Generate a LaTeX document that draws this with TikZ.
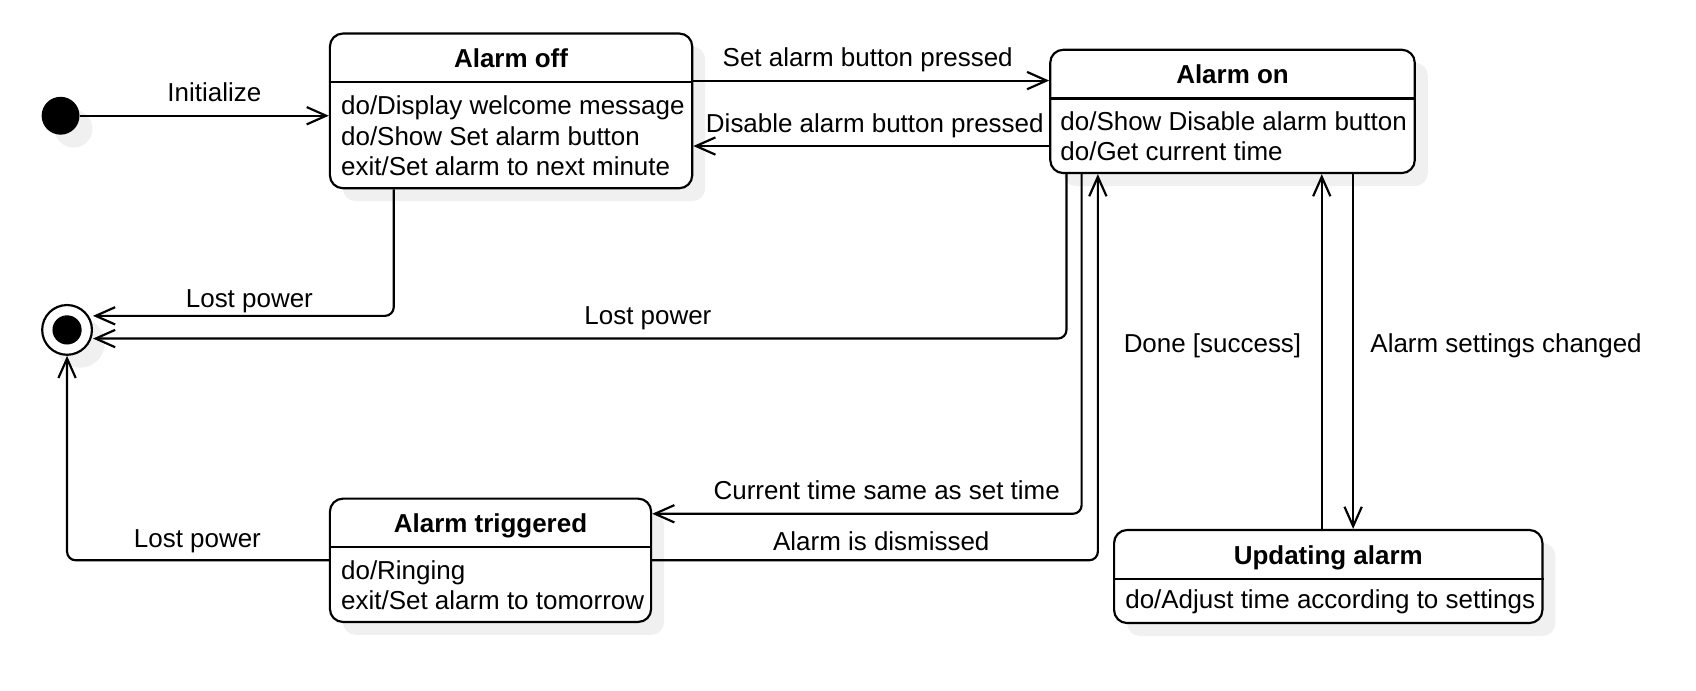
\documentclass[tikz,border=0pt]{standalone}
\usepackage{fontspec}
\setmainfont{Liberation Sans}
\usetikzlibrary{arrows.meta,shadows}

\begin{document}
\begin{tikzpicture}[x=0.5pt,y=-0.5pt,
  every node/.style={font=\fontsize{12}{14}\selectfont},
  boxshadow/.style={drop shadow={shadow xshift=6pt,shadow yshift=-6pt,fill=black!6,opacity=1}},
  statebox/.style={draw,line width=1pt,rounded corners=6pt,fill=white,boxshadow,inner sep=0pt},
  statetitle/.style={font=\fontsize{12}{14}\selectfont\bfseries,inner sep=0pt,text height=9pt,text depth=3pt},
  statebody/.style={align=left,inner sep=0pt,anchor=west},
  trans/.style={draw,line width=1pt,rounded corners=4pt,-{Straight Barb[length=9pt,width=8pt]}},
  lab/.style={inner sep=0pt,text height=9pt,text depth=3pt}
]
\useasboundingbox (0,0) rectangle (1568,638);

% pseudo states
\node[circle,fill=black,minimum size=17.5pt,inner sep=0pt,boxshadow] (init) at (56,107) {};
\node[circle,draw,line width=1pt,fill=white,minimum size=23pt,inner sep=0pt,boxshadow] (final) at (62,305) {};
\fill (final.center) circle (6.75pt);

% states
\node[statebox,minimum width=167.5pt,minimum height=71.5pt] (off) at (472.5,102.5) {};
\node[statetitle] (offtitle) at ([yshift=-13.3pt]off.north) {Alarm off};
\draw[line width=1pt] ([yshift=-23pt]off.north west) -- ([yshift=-23pt]off.north east);
\node[statebody] (offbody) at (315,125.5) {do/Display welcome message\\do/Show Set alarm button\\exit/Set alarm to next minute};

\node[statebox,minimum width=168.5pt,minimum height=57pt] (on) at (1139.5,103) {};
\node[statetitle] (ontitle) at ([yshift=-13.3pt]on.north) {Alarm on};
\draw[line width=1pt] ([yshift=-23pt]on.north west) -- ([yshift=-23pt]on.north east);
\node[statebody] (onbody) at (980,126) {do/Show Disable alarm button\\do/Get current time};

\node[statebox,minimum width=148.5pt,minimum height=57pt] (trig) at (453.5,518) {};
\node[statetitle] (trigtitle) at ([yshift=-13.3pt]trig.north) {Alarm triggered};
\draw[line width=1pt] ([yshift=-23pt]trig.north west) -- ([yshift=-23pt]trig.north east);
\node[statebody] (trigbody) at (315,541) {do/Ringing\\exit/Set alarm to tomorrow};

\node[statebox,minimum width=198pt,minimum height=43pt] (upd) at (1228,533) {};
\node[statetitle] (updtitle) at ([yshift=-13.3pt]upd.north) {Updating alarm};
\draw[line width=1pt] ([yshift=-23pt]upd.north west) -- ([yshift=-23pt]upd.north east);
\node[statebody] (updbody) at (1040,556.5) {do/Adjust time according to settings};

% transitions
\draw[trans] (init) -- (off.west |- init)
  node[lab,above=3.2pt,pos=0.54] (initlab) {Initialize};
\draw[trans] ([yshift=14pt]off.east) -- ([yshift=14pt]off.east -| on.west)
  node[lab,above=3.2pt,pos=0.49] (setlab) {Set alarm button pressed};
\draw[trans] ([yshift=-16pt]on.west) -- ([yshift=-16pt]on.west -| off.east)
  node[lab,above=2.7pt,pos=0.49] (disablelab) {Disable alarm button pressed};
\draw[trans] ([xshift=-54.25pt]off.south) |- ([yshift=6.5pt]final.east)
  node[lab,above=0.2pt,pos=0.74] (lostofflab) {Lost power};
\draw[trans] ([xshift=-76.75pt]on.south) |- ([yshift=-4pt]final.east)
  node[lab,above=3pt,pos=0.715] (lostonlab) {Lost power};
\draw[trans] ([xshift=-69.75pt]on.south) |- ([yshift=21.5pt]trig.east)
  node[lab,above=3.2pt,pos=0.727] (timelab) {Current time same as set time};
\draw[trans] (trig.east) -| ([xshift=-62.25pt]on.south)
  node[lab,above=1.2pt,pos=0.257] (dismisslab) {Alarm is dismissed};
\draw[trans] (trig.west) -| (final.south)
  node[lab,above=2.2pt,pos=0.251] (losttriglab) {Lost power};
\draw[trans] ([xshift=-3pt]upd.north) -- ([xshift=-3pt]upd.north |- on.south)
  node[lab,left=9pt,pos=0.515] (donelab) {Done [success]};
\draw[trans] ([xshift=11.5pt]upd.north |- on.south) -- ([xshift=11.5pt]upd.north)
  node[lab,right=7.5pt,pos=0.485] (changelab) {Alarm settings changed};
\end{tikzpicture}
\end{document}
